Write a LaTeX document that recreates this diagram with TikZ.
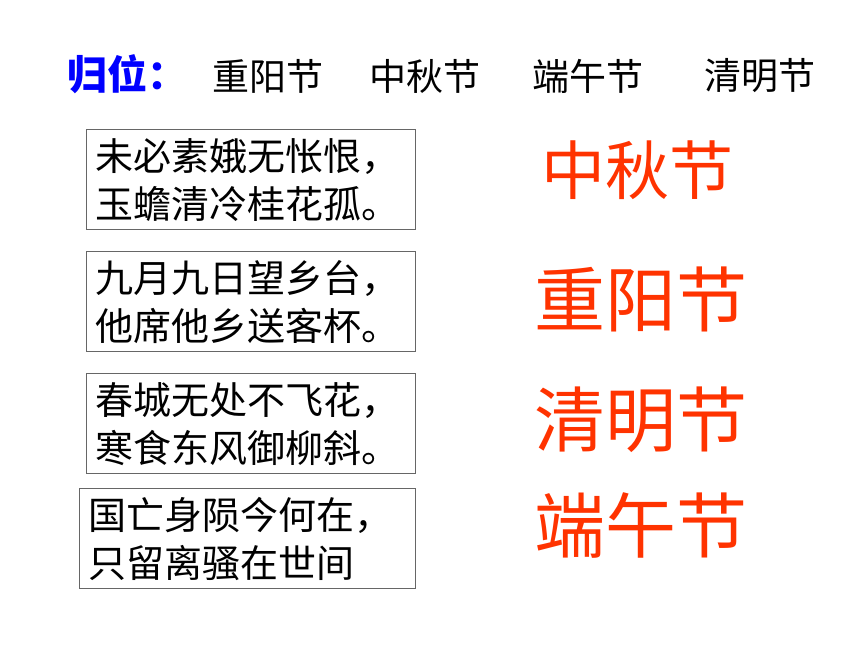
\documentclass[tikz,border=0pt]{standalone}
\usepackage{fontspec}
\setmainfont{Noto Sans CJK SC}
\begin{document}
\begin{tikzpicture}[x=1pt,y=-1pt,
  box/.style={draw=black!60,line width=0.8pt,minimum height=100pt,inner sep=0pt},
  poem/.style={anchor=west,align=left,inner sep=0pt,font=\fontsize{38}{48}\selectfont},
  head/.style={anchor=west,inner sep=0pt,font=\fontsize{37}{40}\selectfont},
  fest/.style={inner sep=0pt,text=festred},
]
\definecolor{festred}{RGB}{255,51,0}
\useasboundingbox (0,0) rectangle (860,645);
\fill[white] (0,0) rectangle (860,645);
% header
\node[head,text=blue,font=\fontsize{40}{44}\selectfont\bfseries] (gw) at (67,74) {归位：};
\node[head] (h1) at (212,76) {重阳节};
\node[head] (h2) at (369,76) {中秋节};
\node[head] (h3) at (532,76) {端午节};
\node[head] (h4) at (704,76) {清明节};
% boxes
\node[box,minimum width=329pt] (b1) at (250.5,179) {};
\node[box,minimum width=329pt] (b2) at (250.5,301) {};
\node[box,minimum width=329pt] (b3) at (250.5,423) {};
\node[box,minimum width=336pt] (b4) at (247,538) {};
\node[poem] (p1) at ([xshift=10pt,yshift=-1pt]b1.west) {未必素娥无怅恨，\\玉蟾清冷桂花孤。};
\node[poem] (p2) at ([xshift=10pt,yshift=-1pt]b2.west) {九月九日望乡台，\\他席他乡送客杯。};
\node[poem] (p3) at ([xshift=10pt,yshift=-1pt]b3.west) {春城无处不飞花，\\寒食东风御柳斜。};
\node[poem] (p4) at ([xshift=10pt,yshift=-1pt]b4.west) {国亡身陨今何在，\\只留离骚在世间};
% answers
\node[fest,font=\fontsize{64}{70}\selectfont] (a1) at (637,170) {中秋节};
\node[fest,font=\fontsize{71}{76}\selectfont] (a2) at (641,299) {重阳节};
\node[fest,font=\fontsize{71}{76}\selectfont] (a3) at (641,420) {清明节};
\node[fest,font=\fontsize{71}{76}\selectfont] (a4) at (641,525) {端午节};
\end{tikzpicture}
\end{document}
